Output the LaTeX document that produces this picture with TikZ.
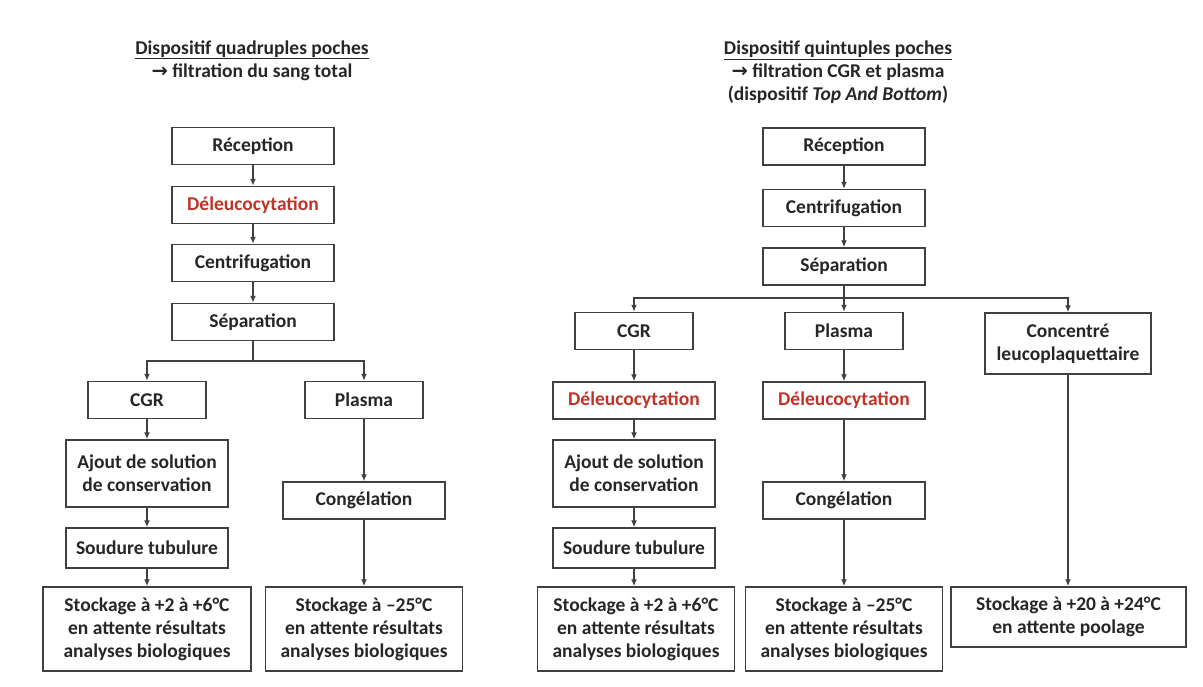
\documentclass[tikz,border=0pt]{standalone}
\usepackage{fontspec}
\setmainfont{Carlito}
\newfontfamily\arrowfont{DejaVu Sans}
\usepackage{tikz}
\usepackage{xcolor}
\usetikzlibrary{arrows.meta}
\definecolor{linecol}{RGB}{64,64,64}
\definecolor{txtcol}{RGB}{38,38,38}
\definecolor{leucocol}{RGB}{192,52,40}

\begin{document}
\begin{tikzpicture}[x=1pt, y=-1pt, >={Latex[length=7pt,width=6pt]},
  every node/.style={font=\bfseries\fontsize{19.5}{23}\selectfont, text=txtcol},
  box/.style={draw=linecol, line width=1.5pt, fill=white, align=center, minimum height=37pt, inner sep=2pt},
  wbox/.style={box, minimum width=162pt},
  nbox/.style={box, minimum width=118pt},
  link/.style={->, draw=linecol, line width=1.3pt}]
  \useasboundingbox (0,0) rectangle (1203,686);
  \node[align=center] (titL) at (252,60.5) {\underline{Dispositif quadruples poches}\\{\arrowfont\bfseries →} filtration du sang total};
  \node[wbox] (recL) at (253,146) {Réception};
  \node[wbox, text=leucocol] (delL) at (253,205) {Déleucocytation};
  \node[wbox] (cenL) at (253,263) {Centrifugation};
  \node[wbox] (sepL) at (253,322) {Séparation};
  \coordinate (brL) at (253,361);
  \node[nbox] (cgrL) at (147,400) {CGR};
  \node[nbox] (plaL) at (364,400) {Plasma};
  \node[wbox, minimum height=67pt] (ajoL) at (147,473.5) {Ajout de solution\\de conservation};
  \node[wbox, minimum height=40pt] (souL) at (147,548) {Soudure tubulure};
  \node[box, minimum width=208pt, minimum height=84pt] (stoL) at (147,629) {Stockage à +2 à +6°C\\en attente résultats\\analyses biologiques};
  \node[wbox] (conL) at (364,500.5) {Congélation};
  \node[box, minimum width=197pt, minimum height=84pt] (stmL) at (364,629) {Stockage à –25°C\\en attente résultats\\analyses biologiques};
  \foreach \a/\b in {recL/delL, delL/cenL, cenL/sepL, cgrL/ajoL, ajoL/souL, souL/stoL, plaL/conL, conL/stmL}
    {\draw[link] (\a) -- (\b);}
  \draw[link,-] (sepL) -- (brL);
  \draw[link] (brL) -| (cgrL);
  \draw[link] (brL) -| (plaL);
  \node[align=center] (titR) at (838,72) {\underline{Dispositif quintuples poches}\\{\arrowfont\bfseries →} filtration CGR et plasma\\(dispositif \textit{Top And Bottom})};
  \node[wbox] (recR) at (844,146.5) {Réception};
  \node[wbox] (cenR) at (844,208) {Centrifugation};
  \node[wbox] (sepR) at (844,266.5) {Séparation};
  \coordinate (brR) at (844,298);
  \node[nbox] (cgrR) at (634,331) {CGR};
  \node[nbox] (plaR) at (844,331) {Plasma};
  \node[box, minimum width=166pt, minimum height=61pt] (cclR) at (1068,343.5) {Concentré\\leucoplaquettaire};
  \node[wbox, text=leucocol] (delR) at (634,400.5) {Déleucocytation};
  \node[wbox, text=leucocol] (dlpR) at (844,400.5) {Déleucocytation};
  \node[wbox, minimum height=67pt] (ajoR) at (634,473.5) {Ajout de solution\\de conservation};
  \node[wbox, minimum height=40pt] (souR) at (634,548) {Soudure tubulure};
  \node[box, minimum width=197pt, minimum height=84pt] (stoR) at (636,629) {Stockage à +2 à +6°C\\en attente résultats\\analyses biologiques};
  \node[wbox] (conR) at (844,500.5) {Congélation};
  \node[box, minimum width=197pt, minimum height=84pt] (stmR) at (844,629) {Stockage à –25°C\\en attente résultats\\analyses biologiques};
  \node[box, minimum width=235pt, minimum height=60pt] (stpR) at (1068.5,617) {Stockage à +20 à +24°C\\en attente poolage};
  \foreach \a/\b in {recR/cenR, cenR/sepR, cgrR/delR, delR/ajoR, ajoR/souR, plaR/dlpR, dlpR/conR, conR/stmR}
    {\draw[link] (\a) -- (\b);}
  \draw[link] (souR) -- (souR |- stoR.north);
  \draw[link] (cclR) -- (cclR |- stpR.north);
  \draw[link,-] (sepR) -- (brR);
  \draw[link] (brR) -| (cgrR);
  \draw[link] (brR) -- (plaR);
  \draw[link] (brR) -| (cclR);
\end{tikzpicture}
\end{document}
